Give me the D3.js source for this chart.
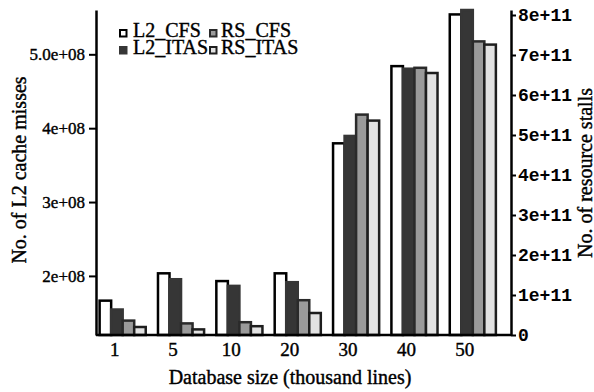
<!DOCTYPE html>
<html>
<head>
<meta charset="utf-8">
<script src="https://cdn.jsdelivr.net/npm/d3@7/dist/d3.min.js"></script>
<style>
  html, body { margin: 0; padding: 0; background: #fff; }
  svg { display: block; }
</style>
</head>
<body>
<svg id="chart" width="594" height="392"></svg>
<script>
// database sizes (thousand lines)
const categories = ['1', '5', '10', '20', '30', '40', '50'];

// L2 cache misses, left axis
const l2Cfs = [1.665e8, 2.035e8, 1.93e8, 2.035e8, 3.795e8, 4.84e8, 5.54e8];
const l2Itas = [1.545e8, 1.955e8, 1.865e8, 1.915e8, 3.895e8, 4.805e8, 5.6e8];

// resource stalls, right axis
const rsCfs = [3.6e10, 2.9e10, 3.2e10, 8.7e10, 5.51e11, 6.68e11, 7.34e11];
const rsItas = [2.0e10, 1.4e10, 2.2e10, 5.5e10, 5.36e11, 6.55e11, 7.26e11];

const seriesNames = ['L2_CFS', 'L2_ITAS', 'RS_CFS', 'RS_ITAS'];

const leftTicks = [2e8, 3e8, 4e8, 5e8];
const leftTickLabels = ['2e+08', '3e+08', '4e+08', '5.0e+08'];
const rightTicks = [0, 1e11, 2e11, 3e11, 4e11, 5e11, 6e11, 7e11, 8e11];
const rightTickLabels = ['0', '1e+11', '2e+11', '3e+11', '4e+11', '5e+11', '6e+11', '7e+11', '8e+11'];

const styles = {
  L2_CFS: { fill: '#ffffff', stroke: '#000000' },
  L2_ITAS: { fill: '#363636', stroke: '#363636' },
  RS_CFS: { fill: '#9a9a9a', stroke: '#2a2a2a' },
  RS_ITAS: { fill: '#e2e2e2', stroke: '#1e1e1e' }
};

const serif = '"Liberation Serif", "Times New Roman", serif';
const mono = '"Liberation Mono", "Courier New", monospace';

const leftX = 96, rightX = 511, plotTop = 10, plotBottom = 335;

const svg = d3.select('#chart');

// the scanned figure has heavy type, so thicken the serif text a little
const heavy = function(sel) {
  sel.attr('stroke', '#000').attr('stroke-width', 0.4).attr('fill', '#000');
};

const x = d3.scaleBand()
  .domain(categories)
  .range([90, 505.5])
  .paddingInner(0.21)
  .paddingOuter(0.165);

const sub = d3.scaleBand()
  .domain(seriesNames)
  .range([0, x.bandwidth()]);

const yL = d3.scaleLinear().domain([1.2e8, 5.6e8]).range([plotBottom, plotTop]);
const yR = d3.scaleLinear().domain([0, 8.125e11]).range([plotBottom, plotTop]);

const rows = categories.map(function(c, i) {
  return [
    { cat: c, name: 'L2_CFS', v: l2Cfs[i], y: yL },
    { cat: c, name: 'L2_ITAS', v: l2Itas[i], y: yL },
    { cat: c, name: 'RS_CFS', v: rsCfs[i], y: yR },
    { cat: c, name: 'RS_ITAS', v: rsItas[i], y: yR }
  ];
});

const bars = svg.append('g');
bars.selectAll('g')
  .data(rows)
  .enter()
  .append('g')
  .selectAll('rect')
  .data(function(d) { return d; })
  .enter()
  .append('rect')
  .attr('x', function(d) { return x(d.cat) + sub(d.name); })
  .attr('y', function(d) { return d.y(d.v); })
  .attr('width', sub.bandwidth())
  .attr('height', function(d) { return plotBottom - d.y(d.v); })
  .attr('fill', function(d) { return styles[d.name].fill; })
  .attr('stroke', function(d) { return styles[d.name].stroke; })
  .attr('stroke-width', 2.5);

// baseline between the two axes
svg.append('line')
  .attr('x1', leftX).attr('x2', rightX)
  .attr('y1', plotBottom).attr('y2', plotBottom)
  .attr('stroke', '#000').attr('stroke-width', 2.5);

// left axis
const leftAxis = svg.append('g')
  .attr('transform', 'translate(' + leftX + ',0)')
  .call(d3.axisLeft(yL)
    .tickValues(leftTicks)
    .tickFormat(function(d, i) { return leftTickLabels[i]; })
    .tickSize(7).tickSizeOuter(0).tickPadding(4));
leftAxis.select('.domain').attr('stroke-width', 2.5);
leftAxis.selectAll('.tick line').attr('stroke-width', 2);
leftAxis.selectAll('text')
  .attr('font-family', serif).attr('font-size', 17)
  .call(heavy);

// right axis
const rightAxis = svg.append('g')
  .attr('transform', 'translate(' + rightX + ',0)')
  .call(d3.axisRight(yR)
    .tickValues(rightTicks)
    .tickFormat(function(d, i) { return rightTickLabels[i]; })
    .tickSize(5).tickSizeOuter(0).tickPadding(2));
rightAxis.select('.domain').attr('stroke-width', 2.5);
rightAxis.selectAll('.tick line').attr('stroke-width', 2);
rightAxis.selectAll('text')
  .attr('font-family', mono).attr('font-weight', 'bold')
  .attr('font-size', 18).attr('fill', '#000');

// category labels, set a bit left of the group centre
const bottomAxis = svg.append('g')
  .attr('transform', 'translate(' + (15 - x.bandwidth() / 2) + ',' + plotBottom + ')')
  .call(d3.axisBottom(x).tickSize(0).tickPadding(8));
bottomAxis.select('.domain').remove();
bottomAxis.selectAll('text')
  .attr('font-family', serif).attr('font-size', 19)
  .call(heavy);

// axis titles
svg.append('text')
  .attr('x', 290).attr('y', 384)
  .attr('text-anchor', 'middle')
  .attr('font-family', serif).attr('font-size', 20)
  .call(heavy)
  .text('Database size (thousand lines)');

svg.append('text')
  .attr('transform', 'translate(26,170) rotate(-90)')
  .attr('text-anchor', 'middle')
  .attr('font-family', serif).attr('font-size', 20)
  .call(heavy)
  .text('No. of L2 cache misses');

svg.append('text')
  .attr('transform', 'translate(592,173) rotate(-90)')
  .attr('text-anchor', 'middle')
  .attr('font-family', serif).attr('font-size', 20)
  .call(heavy)
  .text('No. of resource stalls');

// legend, two columns
const legendPos = [
  { name: 'L2_CFS', sx: 120, tx: 133, y: 37 },
  { name: 'RS_CFS', sx: 210, tx: 221, y: 37 },
  { name: 'L2_ITAS', sx: 120, tx: 133, y: 54 },
  { name: 'RS_ITAS', sx: 210, tx: 221, y: 54 }
];
const legend = svg.append('g');
legend.selectAll('rect')
  .data(legendPos)
  .enter()
  .append('rect')
  .attr('x', function(d) { return d.sx; })
  .attr('y', function(d) { return d.y - 7; })
  .attr('width', 6.5).attr('height', 6.5)
  .attr('fill', function(d) { return styles[d.name].fill; })
  .attr('stroke', function(d) { return styles[d.name].stroke; })
  .attr('stroke-width', 2);
legend.selectAll('text')
  .data(legendPos)
  .enter()
  .append('text')
  .attr('x', function(d) { return d.tx; })
  .attr('y', function(d) { return d.y; })
  .attr('font-family', serif).attr('font-size', 20)
  .call(heavy)
  .text(function(d) { return d.name; });
</script>
</body>
</html>
